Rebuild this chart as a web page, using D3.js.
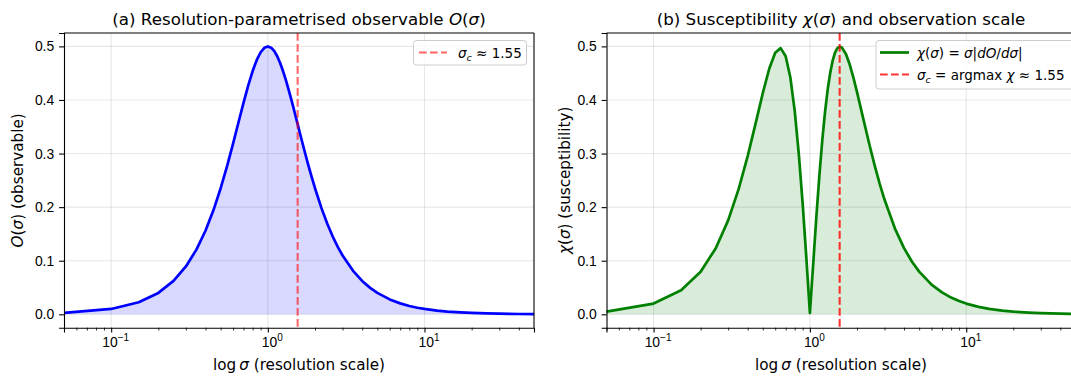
<!DOCTYPE html>
<html>
<head>
<meta charset="utf-8">
<script src="https://cdn.jsdelivr.net/npm/d3@7"></script>
<style>
  body { margin: 0; background: #fff; }
  svg { font-family: "DejaVu Sans", sans-serif; display: block; }
</style>
</head>
<body>
<div id="chart"></div>
<script>
// sigma sample points
const sigma = [0.05, 0.1, 0.15, 0.2, 0.25, 0.3, 0.35, 0.4, 0.45, 0.5, 0.55, 0.6, 0.65, 0.7, 0.75, 0.8, 0.85, 0.9, 0.95, 1.0,
  1.05, 1.1, 1.15, 1.2, 1.25, 1.3, 1.35, 1.4, 1.45, 1.5, 1.55, 1.6, 1.7, 1.8, 1.9, 2.0, 2.2, 2.4, 2.6, 2.8, 3.0, 3.5,
  4, 4.5, 5, 6, 7, 8, 9, 10, 12, 14, 17, 20, 25, 30, 40, 50];

// panel (a) observable O(sigma)
const observable = [0.0025, 0.0100, 0.0225, 0.0399, 0.0623, 0.0893, 0.1207, 0.1560, 0.1945, 0.2353, 0.2771, 0.3187, 0.3585, 0.3951, 0.4273, 0.4540, 0.4747, 0.4891, 0.4974, 0.5000,
  0.4976, 0.4911, 0.4811, 0.4685, 0.4540, 0.4383, 0.4217, 0.4048, 0.3879, 0.3711, 0.3548, 0.3389, 0.3090, 0.2818, 0.2573, 0.2353, 0.1982, 0.1685, 0.1448, 0.1255, 0.1098, 0.0811,
  0.0623, 0.0493, 0.0399, 0.0278, 0.0204, 0.0156, 0.0123, 0.0100, 0.0069, 0.0051, 0.0035, 0.0025, 0.0016, 0.0011, 0.0006, 0.0004];

// panel (b) susceptibility chi(sigma)
const suscept = [0.0050, 0.0200, 0.0449, 0.0795, 0.1234, 0.1753, 0.2336, 0.2953, 0.3568, 0.4131, 0.4588, 0.4882, 0.4968, 0.4815, 0.4418, 0.3792, 0.2981, 0.2041, 0.1036, 0.0025,
  0.0940, 0.1821, 0.2593, 0.3246, 0.3779, 0.4199, 0.4514, 0.4739, 0.4887, 0.4967, 0.4994, 0.4979, 0.4859, 0.4656, 0.4412, 0.4152, 0.3639, 0.3173, 0.2771, 0.2430, 0.2142, 0.1600,
  0.1236, 0.0980, 0.0796, 0.0554, 0.0408, 0.0312, 0.0247, 0.0200, 0.0139, 0.0102, 0.0069, 0.0050, 0.0032, 0.0022, 0.0013, 0.0008];

const sigmaC = 1.55;
const yTicks = [0, 0.1, 0.2, 0.3, 0.4, 0.5];
const xMajor = [0.1, 1, 10];
const xMajorExp = ["\u22121", "0", "1"];
const xMinor = [0.05, 0.06, 0.07, 0.08, 0.09, 0.2, 0.3, 0.4, 0.5, 0.6, 0.7, 0.8, 0.9, 2, 3, 4, 5, 6, 7, 8, 9, 20, 30, 40, 50];

const W = 1071, H = 376;
const axTop = 33, axBottom = 327.7;
const tickFont = 13.9, titleFont = 16.7, labelFont = 15.2, legendFont = 13.5;

const svg = d3.select("#chart").append("svg")
  .attr("width", W).attr("height", H);

const data = sigma.map((s, i) => ({s: s, o: observable[i], c: suscept[i]}));

function panel(x0, x1, opts) {
  const x = d3.scaleLog().domain([0.05, 50]).range([x0, x1]);
  const y = d3.scaleLinear().domain([-0.025, 0.525]).range([axBottom, axTop]);
  const g = svg.append("g");

  // grid
  g.append("g").selectAll("line").data(xMajor).join("line")
    .attr("x1", d => x(d)).attr("x2", d => x(d))
    .attr("y1", axTop).attr("y2", axBottom)
    .attr("stroke", "#b0b0b0").attr("stroke-opacity", 0.3).attr("stroke-width", 1.1);
  g.append("g").selectAll("line").data(yTicks).join("line")
    .attr("y1", d => y(d)).attr("y2", d => y(d))
    .attr("x1", x0).attr("x2", x1)
    .attr("stroke", "#b0b0b0").attr("stroke-opacity", 0.3).attr("stroke-width", 1.1);

  // fill + line
  const area = d3.area().x(d => x(d.s)).y0(y(0)).y1(d => y(d[opts.key]));
  const line = d3.line().x(d => x(d.s)).y(d => y(d[opts.key]));
  g.append("path").datum(data).attr("d", area)
    .attr("fill", opts.color).attr("fill-opacity", 0.15);
  g.append("path").datum(data).attr("d", line)
    .attr("fill", "none").attr("stroke", opts.color).attr("stroke-width", 2.7)
    .attr("stroke-linejoin", "round").attr("stroke-linecap", "butt");

  // critical scale
  g.append("line")
    .attr("x1", x(sigmaC)).attr("x2", x(sigmaC))
    .attr("y1", axTop).attr("y2", axBottom)
    .attr("stroke", "red").attr("stroke-opacity", opts.vAlpha)
    .attr("stroke-width", 2.1).attr("stroke-dasharray", "7.7,3.3");

  // axes
  const xAxis = g.append("g").attr("transform", `translate(0,${axBottom})`)
    .call(d3.axisBottom(x).tickValues(xMajor).tickSize(4.9).tickPadding(4.6).tickFormat(""));
  xAxis.selectAll(".tick text").each(function(d, i) {
    const t = d3.select(this);
    t.append("tspan").text("10");
    t.append("tspan").attr("dy", -6.5).attr("font-size", tickFont * 0.72).text(xMajorExp[i]);
  });
  xAxis.selectAll(".tick text").attr("font-size", tickFont).attr("fill", "#000").attr("dx", 4);
  g.append("g").attr("transform", `translate(0,${axBottom})`)
    .call(d3.axisBottom(x).tickValues(xMinor).tickSize(2.8).tickFormat(""))
    .call(a => a.select(".domain").remove())
    .selectAll("line").attr("stroke-width", 0.8);
  xAxis.select(".domain").attr("stroke-width", 1.1);
  xAxis.selectAll(".tick line").attr("stroke-width", 1.1);

  const yAxis = g.append("g").attr("transform", `translate(${x0},0)`)
    .call(d3.axisLeft(y).tickValues(yTicks).tickSize(4.9).tickPadding(4.9).tickFormat(d3.format(".1f")));
  yAxis.selectAll("text").attr("font-size", tickFont).attr("fill", "#000");
  yAxis.select(".domain").attr("stroke-width", 1.1);
  yAxis.selectAll(".tick line").attr("stroke-width", 1.1);

  // top / right spines
  g.append("line").attr("x1", x0).attr("x2", x1).attr("y1", axTop).attr("y2", axTop)
    .attr("stroke", "#000").attr("stroke-width", 1.1);
  g.append("line").attr("x1", x1).attr("x2", x1).attr("y1", axTop).attr("y2", axBottom)
    .attr("stroke", "#000").attr("stroke-width", 1.1);

  // title
  g.append("text").attr("x", (x0 + x1) / 2).attr("y", 24.5)
    .attr("text-anchor", "middle").attr("font-size", titleFont)
    .html(opts.title);

  // x label
  g.append("text").attr("x", (x0 + x1) / 2).attr("y", 369.5)
    .attr("text-anchor", "middle").attr("font-size", labelFont)
    .html('log\u2009<tspan font-style="italic">σ</tspan> (resolution scale)');

  // y label
  g.append("text")
    .attr("transform", `translate(${opts.ylabX},${(axTop + axBottom) / 2}) rotate(-90)`)
    .attr("text-anchor", "middle").attr("font-size", labelFont)
    .html(opts.ylabel);

  return {x: x, y: y, g: g};
}

const pa = panel(64, 534, {
  key: "o", color: "blue", vAlpha: 0.6, ylabX: 23,
  title: '(a) Resolution-parametrised observable <tspan font-style="italic">O</tspan>(<tspan font-style="italic">σ</tspan>)',
  ylabel: '<tspan font-style="italic">O</tspan>(<tspan font-style="italic">σ</tspan>) (observable)'
});

const pb = panel(606.5, 1075.5, {
  key: "c", color: "green", vAlpha: 0.8, ylabX: 570,
  title: '(b) Susceptibility <tspan font-style="italic">χ</tspan>(<tspan font-style="italic">σ</tspan>) and observation scale',
  ylabel: '<tspan font-style="italic">χ</tspan>(<tspan font-style="italic">σ</tspan>) (susceptibility)'
});

// legends
function legendBox(x, y, w, h) {
  svg.append("rect").attr("x", x).attr("y", y).attr("width", w).attr("height", h)
    .attr("rx", 3).attr("fill", "#fff").attr("fill-opacity", 0.8)
    .attr("stroke", "#cccccc").attr("stroke-width", 1);
}

legendBox(413.5, 40.5, 113, 24.5);
svg.append("line").attr("x1", 419).attr("x2", 447).attr("y1", 52.5).attr("y2", 52.5)
  .attr("stroke", "red").attr("stroke-opacity", 0.6).attr("stroke-width", 2.1).attr("stroke-dasharray", "7.7,3.3");
svg.append("text").attr("x", 458).attr("y", 57.5).attr("font-size", legendFont)
  .html('<tspan font-style="italic">σ</tspan><tspan font-style="italic" font-size="9.5" dy="3">c</tspan><tspan dy="-3"> ≈ 1.55</tspan>');

legendBox(876, 40.5, 200, 48.5);
svg.append("line").attr("x1", 880).attr("x2", 909).attr("y1", 52.5).attr("y2", 52.5)
  .attr("stroke", "green").attr("stroke-width", 2.7);
svg.append("text").attr("x", 917).attr("y", 57.5).attr("font-size", legendFont)
  .html('<tspan font-style="italic">χ</tspan>(<tspan font-style="italic">σ</tspan>) = <tspan font-style="italic">σ</tspan>|<tspan font-style="italic">dO</tspan>/<tspan font-style="italic">dσ</tspan>|');
svg.append("line").attr("x1", 880).attr("x2", 909).attr("y1", 74.5).attr("y2", 74.5)
  .attr("stroke", "red").attr("stroke-opacity", 0.8).attr("stroke-width", 2.1).attr("stroke-dasharray", "7.7,3.3");
svg.append("text").attr("x", 917).attr("y", 79.5).attr("font-size", legendFont)
  .html('<tspan font-style="italic">σ</tspan><tspan font-style="italic" font-size="9.5" dy="3">c</tspan><tspan dy="-3"> = argmax </tspan><tspan font-style="italic">χ</tspan> ≈ 1.55');
</script>
</body>
</html>
